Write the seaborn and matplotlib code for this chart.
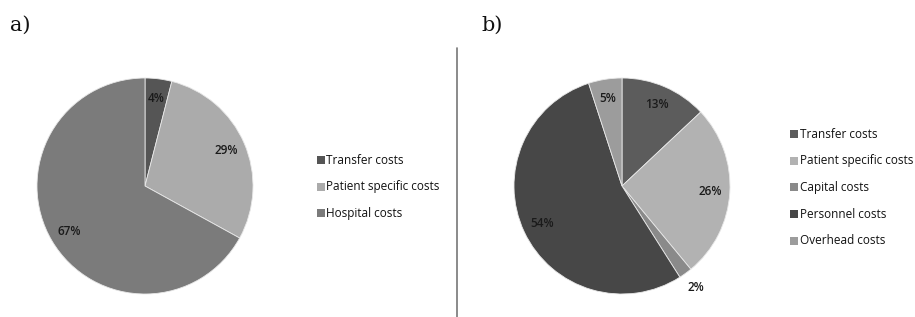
import numpy as np
import matplotlib
matplotlib.use("Agg")
import matplotlib.pyplot as plt
import seaborn as sns
from matplotlib.patches import Rectangle
from matplotlib.lines import Line2D

sns.set_theme(style="white")
plt.rcParams['font.family'] = ['Open Sans', 'DejaVu Sans']

# ---- data ----
labels_a = ["Transfer costs", "Patient specific costs", "Hospital costs"]
values_a = [4, 29, 67]
colors_a = ["#555555", "#ababab", "#7b7b7b"]

labels_b = ["Transfer costs", "Patient specific costs", "Capital costs",
            "Personnel costs", "Overhead costs"]
values_b = [13, 26, 2, 54, 5]
colors_b = ["#5c5c5c", "#b2b2b2", "#8a8a8a", "#474747", "#9c9c9c"]
outside_b = [False, False, True, False, False]

W, H = 915, 317
fig = plt.figure(figsize=(W / 100, H / 100), dpi=100)
fig.patch.set_facecolor("white")

R = 108  # pie radius in px


def pie_axes(cx, cy):
    ax = fig.add_axes([(cx - R) / W, 1 - (cy + R) / H, 2 * R / W, 2 * R / H])
    ax.axis("off")
    return ax


def draw_pie(ax, values, colors, outside=None):
    wedges, _ = ax.pie(values, colors=colors, startangle=90, counterclock=False,
                       radius=1.0, wedgeprops=dict(edgecolor="#e8e8e8", linewidth=0.6))
    ax.set_xlim(-1, 1)
    ax.set_ylim(-1, 1)
    ax.set_aspect("equal")
    for i, (w, v) in enumerate(zip(wedges, values)):
        ang = np.deg2rad((w.theta1 + w.theta2) / 2)
        d = 1.16 if (outside and outside[i]) else 0.82
        t = ax.text(d * np.cos(ang), d * np.sin(ang), f"{v}%", ha="center", va="center",
                    fontsize=8.5, color="#1a1a1a", fontweight="semibold")
        t.set_clip_on(False)
    return wedges


def draw_legend(x, y0, step, labels, colors):
    for i, (lab, c) in enumerate(zip(labels, colors)):
        y = y0 + i * step
        fig.patches.append(Rectangle(((x) / W, 1 - (y + 4) / H), 8 / W, 8 / H,
                                     transform=fig.transFigure, facecolor=c,
                                     edgecolor="none"))
        fig.text((x + 9.5) / W, 1 - y / H, lab, ha="left", va="center",
                 fontsize=8.5, color="#111111")


ax_a = pie_axes(145, 186)
draw_pie(ax_a, values_a, colors_a)
draw_legend(317, 160, 26.5, labels_a, colors_a)

ax_b = pie_axes(622, 186)
draw_pie(ax_b, values_b, colors_b, outside_b)
draw_legend(790, 134, 26.7, labels_b, colors_b)

fig.text(10 / W, 1 - 25 / H, "a)", fontsize=15, family="DejaVu Serif",
         ha="left", va="center", color="#111111")
fig.text(481 / W, 1 - 25 / H, "b)", fontsize=15, family="DejaVu Serif",
         ha="left", va="center", color="#111111")

fig.lines.append(Line2D([457 / W, 457 / W], [1 - 48 / H, 0], transform=fig.transFigure,
                        color="#777777", linewidth=1.2))

fig.savefig("out.png", dpi=100, facecolor="white")
